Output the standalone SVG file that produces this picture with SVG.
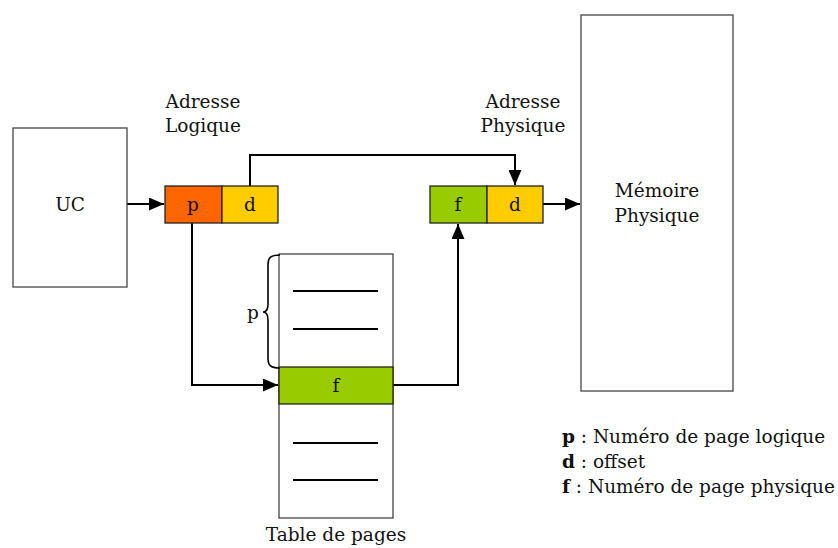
<svg xmlns="http://www.w3.org/2000/svg" width="838" height="548" viewBox="0 0 838 548">
<style>
text{font-family:"DejaVu Serif","Liberation Serif",serif;font-size:18.5px;fill:#111}
.c{text-anchor:middle}
.box{fill:#fff;stroke:#444;stroke-width:1.3}
.cell{stroke:#222;stroke-width:1.3}
.ln{fill:none;stroke:#000;stroke-width:2}
.bar{stroke:#000;stroke-width:2}
</style>
<defs>
<marker id="ah" viewBox="0 0 15 13" refX="15" refY="6.5" markerWidth="15" markerHeight="13" markerUnits="userSpaceOnUse" orient="auto">
<path d="M0,0 L15,6.5 L0,13 z" fill="#000"/>
</marker>
</defs>
<g id="connectors">
<line class="ln" x1="127" y1="204" x2="164" y2="204" marker-end="url(#ah)"/>
<polyline class="ln" points="250,186 250,155 515,155 515,185" marker-end="url(#ah)"/>
<line class="ln" x1="543" y1="204" x2="580" y2="204" marker-end="url(#ah)"/>
<polyline class="ln" points="192,223 192,385 278,385" marker-end="url(#ah)"/>
<polyline class="ln" points="393,385 458,385 458,224" marker-end="url(#ah)"/>
</g>
<g id="uc">
<rect class="box" x="13" y="128" width="114" height="159"/>
<text class="c" x="70" y="211">UC</text>
</g>
<g id="adresse-logique">
<text class="c" x="203" y="108">Adresse</text>
<text class="c" x="203" y="132">Logique</text>
<rect class="cell" x="165" y="186" width="57" height="37" fill="#FF6600"/>
<rect class="cell" x="222" y="186" width="56" height="37" fill="#FFCC00"/>
<text class="c" x="193" y="211">p</text>
<text class="c" x="250" y="211">d</text>
</g>
<g id="adresse-physique">
<text class="c" x="523" y="108">Adresse</text>
<text class="c" x="523" y="132">Physique</text>
<rect class="cell" x="430" y="186" width="57" height="37" fill="#99CC00"/>
<rect class="cell" x="487" y="186" width="56" height="37" fill="#FFCC00"/>
<text class="c" x="458" y="211">f</text>
<text class="c" x="515" y="211">d</text>
</g>
<g id="memoire">
<rect class="box" x="581" y="15" width="152" height="376"/>
<text class="c" x="657" y="197">Mémoire</text>
<text class="c" x="657" y="222">Physique</text>
</g>
<g id="table">
<rect class="box" x="279" y="254" width="114" height="264"/>
<rect class="cell" x="279" y="367" width="114" height="37" fill="#99CC00"/>
<text class="c" x="336" y="392">f</text>
<line class="bar" x1="293" y1="291" x2="378" y2="291"/>
<line class="bar" x1="293" y1="329" x2="378" y2="329"/>
<line class="bar" x1="293" y1="443" x2="378" y2="443"/>
<line class="bar" x1="293" y1="480" x2="378" y2="480"/>
<path d="M280,255 C270,255 268,258 268,265 L268,304 C268,309 267,312 263,312 C267,312 268,315 268,320 L268,358 C268,365 270,368 280,368" fill="none" stroke="#000" stroke-width="1.6"/>
<text class="c" x="253" y="319">p</text>
<text class="c" x="336" y="541">Table de pages</text>
</g>
<g id="legende">
<text x="562" y="443"><tspan font-weight="bold">p</tspan> : Numéro de page logique</text>
<text x="562" y="468"><tspan font-weight="bold">d</tspan> : offset</text>
<text x="562" y="493"><tspan font-weight="bold">f</tspan> : Numéro de page physique</text>
</g>
</svg>
